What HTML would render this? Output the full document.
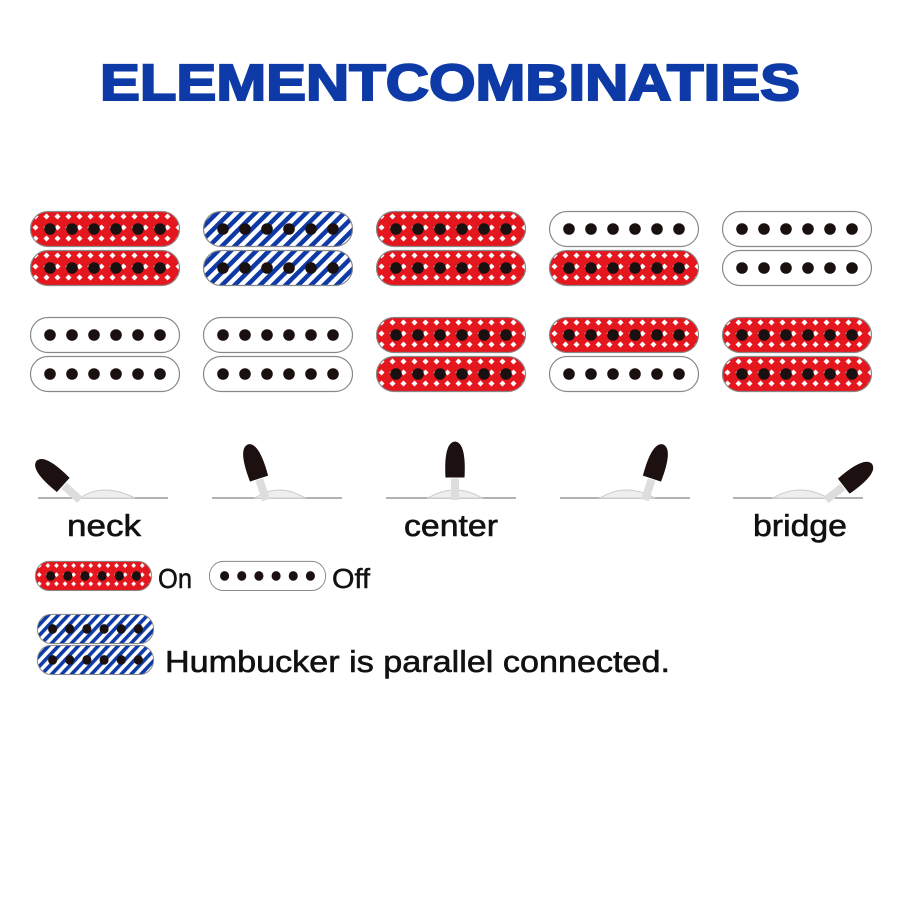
<!DOCTYPE html>
<html><head><meta charset="utf-8"><style>
html,body{margin:0;padding:0;background:#fff;}
svg{display:block}
</style></head><body>
<svg width="900" height="900" viewBox="0 0 900 900" xmlns="http://www.w3.org/2000/svg">
<defs>
<pattern id="red" width="11" height="11" patternUnits="userSpaceOnUse">
<rect width="11" height="11" fill="#e4161e"/>
<path d="M5.5 2.5 L8.5 5.5 L5.5 8.5 L2.5 5.5Z" fill="#fff"/>
</pattern>
<pattern id="blue" width="9" height="9" patternUnits="userSpaceOnUse" patternTransform="rotate(45)">
<rect width="9" height="9" fill="#fff"/>
<rect width="4.5" height="9" fill="#0d3aa6"/>
</pattern>
<g id="holes">
<circle cx="20" cy="0" r="5.8"/><circle cx="42" cy="0" r="5.8"/><circle cx="64" cy="0" r="5.8"/>
<circle cx="86" cy="0" r="5.8"/><circle cx="108" cy="0" r="5.8"/><circle cx="130" cy="0" r="5.8"/>
</g>
<g id="pR"><rect x="0.5" y="0.5" width="149" height="35" rx="17.5" fill="url(#red)" stroke="#888" stroke-width="1.2"/><use href="#holes" y="18" fill="#1a1010"/></g>
<g id="pB"><rect x="0.5" y="0.5" width="149" height="35" rx="17.5" fill="url(#blue)" stroke="#888" stroke-width="1.2"/><use href="#holes" y="18" fill="#1a1010"/></g>
<g id="pW"><rect x="0.5" y="0.5" width="149" height="35" rx="17.5" fill="#fff" stroke="#888" stroke-width="1.2"/><use href="#holes" y="18" fill="#1a1010"/></g>
<g id="knob">
<rect x="-4" y="-26" width="8" height="26" fill="#ddd"/>
<path d="M-10 -22 Q-12 -58 0 -59 Q12 -58 10 -22 Z" fill="#1c1010" stroke="#fff" stroke-width="1"/>
</g>
</defs>

<text x="450" y="100" text-anchor="middle" font-family="Liberation Sans, sans-serif" font-weight="bold" font-size="51" fill="#0d3aa6" stroke="#0d3aa6" stroke-width="2" textLength="700" lengthAdjust="spacingAndGlyphs">ELEMENTCOMBINATIES</text>

<use href="#pR" x="30" y="211"/><use href="#pR" x="30" y="250"/>
<use href="#pB" x="203" y="211"/><use href="#pB" x="203" y="250"/>
<use href="#pR" x="376" y="211"/><use href="#pR" x="376" y="250"/>
<use href="#pW" x="549" y="211"/><use href="#pR" x="549" y="250"/>
<use href="#pW" x="722" y="211"/><use href="#pW" x="722" y="250"/>
<use href="#pW" x="30" y="317"/><use href="#pW" x="30" y="356"/>
<use href="#pW" x="203" y="317"/><use href="#pW" x="203" y="356"/>
<use href="#pR" x="376" y="317"/><use href="#pR" x="376" y="356"/>
<use href="#pR" x="549" y="317"/><use href="#pW" x="549" y="356"/>
<use href="#pR" x="722" y="317"/><use href="#pR" x="722" y="356"/>

<g stroke="#999" stroke-width="1.5">
<line x1="38" y1="498" x2="168" y2="498"/><line x1="212" y1="498" x2="342" y2="498"/>
<line x1="386" y1="498" x2="516" y2="498"/><line x1="560" y1="498" x2="690" y2="498"/>
<line x1="733" y1="498" x2="863" y2="498"/>
</g>
<g fill="#eee" stroke="#ccc">
<path d="M80 498 Q103 482 135 498Z"/><path d="M255 498 Q279 482 305 498Z"/>
<path d="M428 498 Q455 482 482 498Z"/><path d="M600 498 Q626 482 655 498Z"/>
<path d="M773 498 Q800 482 828 498Z"/>
</g>
<use href="#knob" transform="translate(80,500) rotate(-48)"/>
<use href="#knob" transform="translate(266,500) rotate(-18)"/>
<use href="#knob" transform="translate(455,500) rotate(0)"/>
<use href="#knob" transform="translate(645,500) rotate(18)"/>
<use href="#knob" transform="translate(826,500) rotate(52)"/>

<g font-family="Liberation Sans, sans-serif" font-size="31" fill="#111" stroke="#111" stroke-width="0.6">
<text x="104" y="536" text-anchor="middle" textLength="74" lengthAdjust="spacingAndGlyphs">neck</text>
<text x="451" y="536" text-anchor="middle" textLength="94" lengthAdjust="spacingAndGlyphs">center</text>
<text x="800" y="536" text-anchor="middle" textLength="94" lengthAdjust="spacingAndGlyphs">bridge</text>
</g>

<g transform="translate(35,561) scale(0.78,0.83)"><use href="#pR"/></g>
<text x="158" y="588" font-family="Liberation Sans, sans-serif" font-size="28" fill="#111" stroke="#111" stroke-width="0.5" textLength="34" lengthAdjust="spacingAndGlyphs">On</text>
<g transform="translate(209,561) scale(0.78,0.83)"><use href="#pW"/></g>
<text x="332" y="588" font-family="Liberation Sans, sans-serif" font-size="28" fill="#111" stroke="#111" stroke-width="0.5" textLength="38" lengthAdjust="spacingAndGlyphs">Off</text>
<g transform="translate(37,614) scale(0.78,0.83)"><use href="#pB"/></g>
<g transform="translate(37,645) scale(0.78,0.83)"><use href="#pB"/></g>
<text x="165" y="672" font-family="Liberation Sans, sans-serif" font-size="31" fill="#111" stroke="#111" stroke-width="0.6" textLength="505" lengthAdjust="spacingAndGlyphs">Humbucker is parallel connected.</text>
</svg>
</body></html>
